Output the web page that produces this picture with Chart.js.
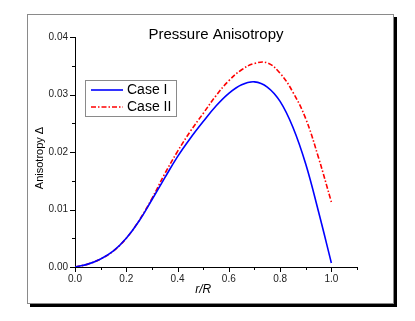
<!DOCTYPE html>
<html>
<head>
<meta charset="utf-8">
<script src="https://cdn.jsdelivr.net/npm/chart.js@4/dist/chart.umd.min.js"></script>
<style>
  html, body { margin: 0; padding: 0; background: #fff; }
  #wrap { position: relative; width: 415px; height: 321px; }
  #frame { position: absolute; left: 27px; top: 14px; width: 365px; height: 288px;
           border: 1px solid #8a8a8a; box-shadow: 3px 3px 0 #000; background: #fff; }
  canvas { position: absolute; left: 0; top: 0; }
</style>
</head>
<body>
<div id="wrap">
  <div id="frame"></div>
  <canvas id="c" width="415" height="321"></canvas>
</div>
<script>
// ---- data ----
const chartTitle = 'Pressure Anisotropy';
const xAxisTitle = 'r/R';
const yAxisTitle = 'Anisotropy Δ';
const rValues = [0, 0.05, 0.1, 0.15, 0.2, 0.25, 0.3, 0.35, 0.4, 0.45, 0.5, 0.55, 0.6, 0.65, 0.7, 0.75, 0.8, 0.85, 0.9, 0.95, 1.0];
const caseI  = [0, 0.0005, 0.0014, 0.0028, 0.0050, 0.0080, 0.0117, 0.0155, 0.0192, 0.0224, 0.0253, 0.0280, 0.0302, 0.0317, 0.0322, 0.0313, 0.0288, 0.0243, 0.0179, 0.0096, 0.0007];
const caseII = [0, 0.0005, 0.0014, 0.0028, 0.0050, 0.0081, 0.0119, 0.0162, 0.0201, 0.0236, 0.0267, 0.0298, 0.0324, 0.0343, 0.0354, 0.0355, 0.0337, 0.0304, 0.0258, 0.0190, 0.0113];
const seriesLabels = ['Case I', 'Case II'];
const xTickLabels = ['0.0', '0.2', '0.4', '0.6', '0.8', '1.0'];
const yTickLabels = ['0.00', '0.01', '0.02', '0.03', '0.04'];

const FONT = '"Liberation Sans", Arial, sans-serif';

const toPts = (xs, ys) => xs.map((x, i) => ({ x: x, y: ys[i] }));

const decor = {
  id: 'decor',
  afterDraw(chart) {
    const ctx = chart.ctx;
    const xs = chart.scales.x, ys = chart.scales.y;
    const a = chart.chartArea;
    ctx.save();
    ctx.strokeStyle = '#000';
    ctx.lineWidth = 1;
    // ticks (outward; major longer)
    xs.ticks.forEach(t => {
      const px = Math.round(xs.getPixelForValue(t.value)) + 0.5;
      const major = xTickLabels.includes(t.value.toFixed(1));
      const len = major ? 5 : 3;
      ctx.beginPath(); ctx.moveTo(px, a.bottom); ctx.lineTo(px, a.bottom + len); ctx.stroke();
    });
    ys.ticks.forEach(t => {
      const py = Math.round(ys.getPixelForValue(t.value)) + 0.5;
      const major = Math.abs(t.value * 100 - Math.round(t.value * 100)) < 1e-6 && yTickLabels.includes(t.value.toFixed(2));
      const len = major ? 5 : 3;
      ctx.beginPath(); ctx.moveTo(a.left, py); ctx.lineTo(a.left - len, py); ctx.stroke();
    });
    // title
    ctx.fillStyle = '#000';
    ctx.font = '15px ' + FONT;
    ctx.textAlign = 'center'; ctx.textBaseline = 'middle';
    ctx.fillText(chartTitle, (a.left + a.right) / 2, 35);
    // x axis title, centred under the data range
    ctx.font = 'italic 12px ' + FONT;
    const cx = (xs.getPixelForValue(rValues[0]) + xs.getPixelForValue(rValues[rValues.length - 1])) / 2;
    ctx.fillText(xAxisTitle, cx, 290);
    // y axis title
    ctx.save();
    ctx.translate(40, 158);
    ctx.rotate(-Math.PI / 2);
    ctx.font = '11px ' + FONT;
    ctx.fillText(yAxisTitle, 0, 0);
    ctx.restore();
    // legend
    const lx = 85, ly = 80, lw = 91, lh = 36;
    ctx.fillStyle = '#fff';
    ctx.fillRect(lx, ly, lw, lh);
    ctx.strokeStyle = '#8a8a8a';
    ctx.strokeRect(lx + 0.5, ly + 0.5, lw, lh);
    chart.data.datasets.forEach((ds, i) => {
      const y = ly + 10 + i * 17;
      ctx.strokeStyle = ds.borderColor;
      ctx.lineWidth = ds.borderWidth;
      ctx.setLineDash(ds.borderDash || []);
      ctx.beginPath(); ctx.moveTo(lx + 6, y); ctx.lineTo(lx + 38, y); ctx.stroke();
      ctx.setLineDash([]);
      ctx.fillStyle = '#000';
      ctx.font = '14px ' + FONT;
      ctx.textAlign = 'left'; ctx.textBaseline = 'middle';
      ctx.fillText(ds.label, lx + 42, y + 0.5);
    });
    ctx.restore();
  }
};

new Chart(document.getElementById('c'), {
  type: 'line',
  data: {
    datasets: [
      { label: seriesLabels[0], data: toPts(rValues, caseI), borderColor: '#0000ff', borderWidth: 1.6,
        pointRadius: 0, tension: 0.4, fill: false },
      { label: seriesLabels[1], data: toPts(rValues, caseII), borderColor: '#ff0000', borderWidth: 1.6,
        borderDash: [5, 2, 1.5, 2], pointRadius: 0, tension: 0.4, fill: false }
    ]
  },
  options: {
    responsive: false,
    animation: false,
    devicePixelRatio: 1,
    layout: { padding: { left: 0, right: 58, top: 37, bottom: 24 } },
    plugins: { legend: { display: false }, title: { display: false }, tooltip: { enabled: false } },
    scales: {
      x: {
        type: 'linear', min: 0, max: 1.1,
        afterFit: s => { s.height = 30; },
        border: { display: true, color: '#000', width: 1 },
        grid: { display: false, drawTicks: false },
        ticks: {
          stepSize: 0.1, autoSkip: false, maxRotation: 0, padding: 6,
          color: '#222', font: { family: FONT, size: 10 },
          callback: v => { const s = v.toFixed(1); return xTickLabels.includes(s) ? s : ''; }
        }
      },
      y: {
        type: 'linear', min: 0, max: 0.04,
        afterFit: s => { s.width = 75; },
        border: { display: true, color: '#000', width: 1 },
        grid: { display: false, drawTicks: false },
        ticks: {
          stepSize: 0.005, autoSkip: false, padding: 7,
          color: '#222', font: { family: FONT, size: 10 },
          callback: v => {
            if (Math.abs(v * 100 - Math.round(v * 100)) > 1e-6) return '';
            const s = v.toFixed(2); return yTickLabels.includes(s) ? s : '';
          }
        }
      }
    }
  },
  plugins: [decor]
});
</script>
</body>
</html>
